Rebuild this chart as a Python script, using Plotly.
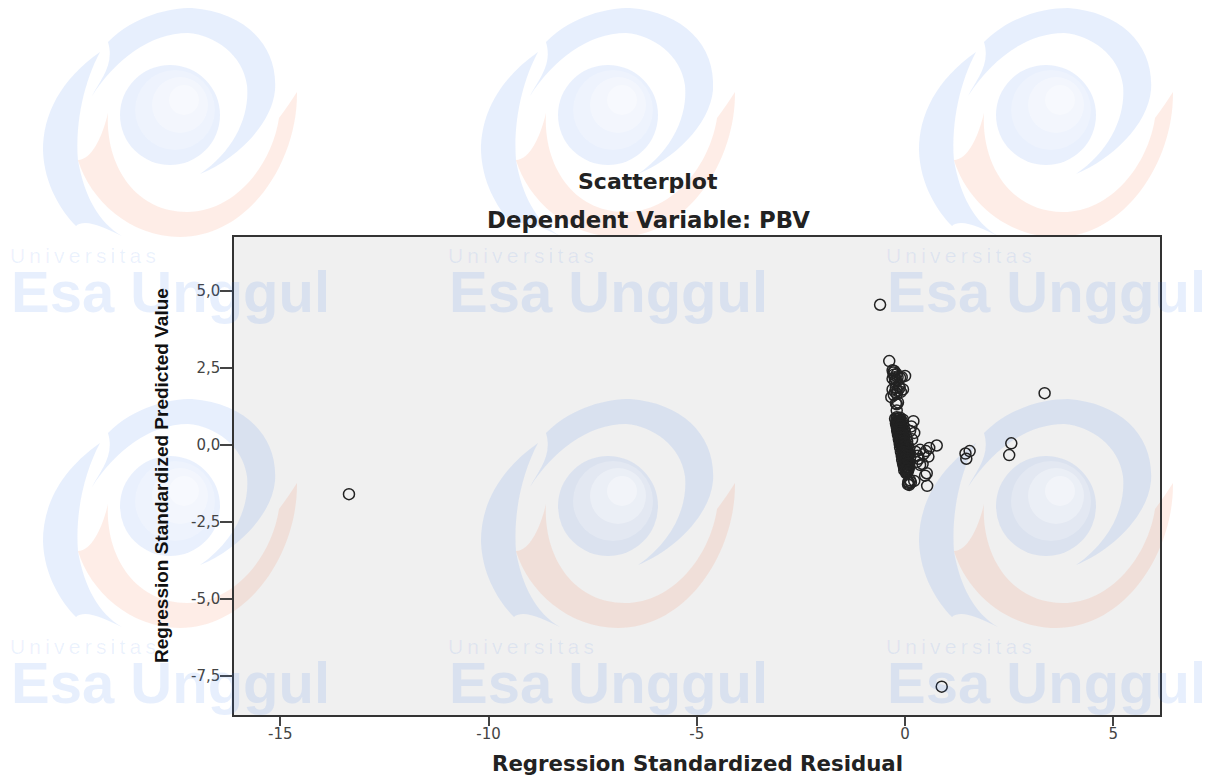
import plotly.graph_objects as go

residual = [-13.35, 0.88, -0.6, 3.35, 2.55, 2.5, 1.55, 1.45, 1.47, -0.38,
 -0.3,-0.28,-0.27,-0.25,-0.3,-0.22,-0.2,-0.18,-0.12,-0.26,-0.24,0.0,-0.08,
 -0.3,-0.22,-0.18,-0.13,-0.05,-0.27,-0.2,-0.15,-0.24,-0.1,-0.33,
 -0.22,-0.2,-0.17,-0.2,
 -0.2,-0.12,-0.05,0.2,0.22,0.15,0.12,0.17,
 0.76,0.56,0.36,0.58,0.36,0.52,0.48,0.53,0.44,0.3,0.25,0.42,0.5,0.33,0.28,
 0.08,0.1,0.12,0.07,0.14,0.22,0.09,
 -0.24,-0.2,-0.16,-0.12,-0.08,-0.22,-0.18,-0.14,-0.1,-0.05,-0.2,-0.16,-0.11,-0.06,-0.02,
 -0.19,-0.15,-0.1,-0.05,0.0,-0.17,-0.13,-0.08,-0.03,0.03,-0.15,-0.11,-0.06,-0.01,0.05,
 -0.13,-0.09,-0.04,0.01,0.07,-0.12,-0.07,-0.02,0.03,0.09,-0.1,-0.05,0.0,0.05,0.1,
 -0.08,-0.03,0.02,0.07,0.12,-0.07,-0.02,0.03,0.08,-0.05,0.0,0.05,0.1,-0.03,0.02,0.07,0.09,-0.02,0.04,0.08,
 -0.21,-0.17,-0.13,-0.19,-0.15,-0.11,-0.18,-0.14,-0.09,-0.16,-0.12,-0.07,-0.15,-0.1,-0.06,-0.13,-0.09,-0.04,
 -0.12,-0.08,-0.03,-0.11,-0.06,-0.01,-0.09,-0.04,0.01,-0.07,-0.03,0.02,-0.06,-0.02,0.04,-0.05,0.0,0.05,
 -0.04,0.01,0.06,-0.02,0.02,0.07,-0.01,0.03,0.08,0.0,0.04,0.09,0.01,0.05,0.02,0.06,0.03,0.05]
predicted = [-1.6, -7.85, 4.55, 1.68, 0.05, -0.33, -0.2, -0.28, -0.45, 2.72,
 2.42,2.35,2.28,2.2,2.15,2.12,2.3,2.2,2.18,2.4,2.05,2.24,2.2,
 1.8,1.85,1.75,1.85,1.8,1.62,1.65,1.92,1.72,1.72,1.55,
 1.35,1.32,1.38,1.12,
 0.9,0.88,0.82,0.77,0.39,0.6,0.45,0.18,
 -0.02,-0.38,-0.16,-0.1,-0.65,-0.92,-1.0,-1.33,-0.3,-0.35,-0.22,-0.62,-0.2,-0.45,-0.55,
 -1.2,-1.3,-1.15,-1.28,-1.22,-1.17,-1.24,
 0.85,0.84,0.86,0.8,0.78,0.7,0.68,0.72,0.7,0.66,0.58,0.56,0.6,0.55,0.5,
 0.46,0.44,0.45,0.42,0.4,0.32,0.3,0.33,0.28,0.25,0.18,0.16,0.2,0.15,0.12,
 0.04,0.02,0.05,0.0,-0.03,-0.08,-0.1,-0.06,-0.12,-0.15,-0.22,-0.2,-0.25,-0.18,-0.28,
 -0.35,-0.32,-0.38,-0.3,-0.42,-0.48,-0.45,-0.5,-0.52,-0.6,-0.58,-0.62,-0.56,-0.7,-0.68,-0.72,-0.66,-0.82,-0.85,-0.8,
 0.75,0.73,0.76,0.63,0.64,0.62,0.52,0.51,0.53,0.41,0.43,0.38,0.35,0.36,0.34,0.24,0.23,0.22,
 0.14,0.13,0.1,0.09,0.07,0.08,-0.02,-0.04,-0.01,-0.13,-0.14,-0.11,-0.24,-0.23,-0.26,-0.33,-0.34,-0.36,
 -0.44,-0.43,-0.46,-0.54,-0.53,-0.51,-0.64,-0.63,-0.61,-0.74,-0.73,-0.75,-0.78,-0.84,-0.88,-0.9,-0.92,-0.76]

x_tick_values = [-15, -10, -5, 0, 5]
x_tick_labels = ["-15", "-10", "-5", "0", "5"]
y_tick_values = [5, 2.5, 0, -2.5, -5, -7.5]
y_tick_labels = ["5,0", "2,5", "0,0", "-2,5", "-5,0", "-7,5"]

logo_origins = [(0, 0), (438, 0), (876, 0), (0, 391), (438, 391), (876, 391)]

W, H = 1213, 778
L, R, T, B = 234, 1160, 237, 715
px = lambda v: (v - L) / (R - L)
py = lambda v: (B - v) / (B - T)

BLUE = "rgba(40,110,235,0.115)"
ORANGE = "rgba(245,110,60,0.12)"

def path(segs, ox, oy):
    out = []
    for cmd, pts in segs:
        out.append(cmd + " ".join(f"{px(a + ox):.4f},{py(b + oy):.4f}" for a, b in pts))
    return " ".join(out) + " Z"

ring = [("M", [(108, 42)]), ("C", [(135, 15), (170, 8), (192, 8)]), ("C", [(245, 12), (278, 45), (275, 90)]),
        ("C", [(272, 125), (235, 160), (200, 174)]), ("C", [(235, 150), (250, 115), (247, 85)]),
        ("C", [(243, 55), (215, 35), (188, 33)]), ("C", [(150, 33), (115, 60), (92, 96)]),
        ("C", [(100, 80), (115, 65), (108, 42)])]
left = [("M", [(100, 52)]), ("C", [(60, 80), (43, 115), (43, 150)]), ("C", [(44, 185), (62, 212), (76, 226)]),
        ("C", [(85, 218), (105, 228), (122, 236)]), ("C", [(98, 222), (84, 195), (78, 160)]),
        ("C", [(75, 120), (85, 80), (100, 52)])]
orange = [("M", [(297, 92)]), ("C", [(298, 160), (250, 237), (180, 237)]), ("C", [(130, 237), (90, 200), (78, 160)]),
          ("C", [(92, 160), (103, 135), (108, 113)]), ("C", [(105, 165), (135, 212), (187, 212)]),
          ("C", [(235, 212), (272, 165), (279, 118)]), ("C", [(285, 110), (292, 100), (297, 92)])]

def circle(ox, oy, cx, cy, r, color):
    return dict(type="circle", xref="paper", yref="paper", layer="below", line_width=0, fillcolor=color,
                x0=px(cx - r + ox), x1=px(cx + r + ox), y0=py(cy + r + oy), y1=py(cy - r + oy))

shapes = []
annotations = []
for ox, oy in logo_origins:
    for segs, col in ((ring, BLUE), (left, BLUE), (orange, ORANGE)):
        shapes.append(dict(type="path", xref="paper", yref="paper", layer="below", line_width=0,
                           fillcolor=col, path=path(segs, ox, oy)))
    shapes.append(circle(ox, oy, 170, 115, 50, "rgba(40,110,235,0.10)"))
    shapes.append(circle(ox, oy, 175, 110, 40, "rgba(255,255,255,0.22)"))
    shapes.append(circle(ox, oy, 180, 105, 28, "rgba(255,255,255,0.3)"))
    shapes.append(circle(ox, oy, 184, 100, 15, "rgba(255,255,255,0.35)"))
    annotations.append(dict(text="Esa Unggul", x=px(9 + ox), y=py(291 + oy), xref="paper", yref="paper",
                            xanchor="left", yanchor="middle", showarrow=False,
                            font=dict(family="Liberation Sans", size=58, weight="bold", color=BLUE)))
    annotations.append(dict(text="U\u2009n\u2009i\u2009v\u2009e\u2009r\u2009s\u2009i\u2009t\u2009a\u2009s",
                            x=px(8 + ox), y=py(255 + oy), xref="paper", yref="paper",
                            xanchor="left", yanchor="middle", showarrow=False,
                            font=dict(family="Liberation Sans", size=21, color="rgba(40,110,235,0.09)")))

title_specs = [("Scatterplot", 648, 182, 22), ("Dependent Variable: PBV", 648, 220, 22.8)]
for text, tx, ty, size in title_specs:
    annotations.append(dict(text=text, x=px(tx), y=py(ty), xref="paper", yref="paper", showarrow=False,
                            xanchor="center", yanchor="middle",
                            font=dict(family="DejaVu Sans", size=size, weight="bold", color="#222")))
annotations.append(dict(text="Regression Standardized Residual", x=px(697), y=py(763), xref="paper", yref="paper",
                        showarrow=False, xanchor="center", yanchor="middle",
                        font=dict(family="DejaVu Sans", size=21.3, weight="bold", color="#222")))
annotations.append(dict(text="Regression Standardized Predicted Value", x=px(161), y=py(476), xref="paper", yref="paper",
                        showarrow=False, xanchor="center", yanchor="middle", textangle=-90,
                        font=dict(family="Liberation Sans", size=19, weight="bold", color="#111")))

fig = go.Figure(go.Scatter(x=residual, y=predicted, mode="markers",
                           marker=dict(symbol="circle-open", size=11, color="#222", line=dict(width=1.5, color="#222"))))

fig.update_layout(
    width=W, height=H, autosize=False, showlegend=False,
    margin=dict(l=L, r=W - R, t=T, b=H - B, pad=0),
    paper_bgcolor="white", plot_bgcolor="#f0f0f0",
    shapes=shapes, annotations=annotations,
    xaxis=dict(range=[-16.11, 6.12], tickmode="array", tickvals=x_tick_values, ticktext=x_tick_labels,
               showgrid=False, zeroline=False, ticks="outside", ticklen=9, tickwidth=1.5, tickcolor="#444",
               showline=True, mirror=True, linecolor="#333", linewidth=1.5, ticklabelstandoff=-5,
               tickfont=dict(family="DejaVu Sans", size=15, color="#444")),
    yaxis=dict(range=[-8.77, 6.75], tickmode="array", tickvals=y_tick_values, ticktext=y_tick_labels,
               showgrid=False, zeroline=False, ticks="outside", ticklen=12, tickwidth=1.5, tickcolor="#444",
               showline=True, mirror=True, linecolor="#333", linewidth=1.5, ticklabelstandoff=-3,
               tickfont=dict(family="DejaVu Sans", size=15, color="#444")),
)
fig.write_html("out.html", config=dict(displayModeBar=False),
               post_script="document.body.style.margin='0';document.body.style.overflow='hidden';")
